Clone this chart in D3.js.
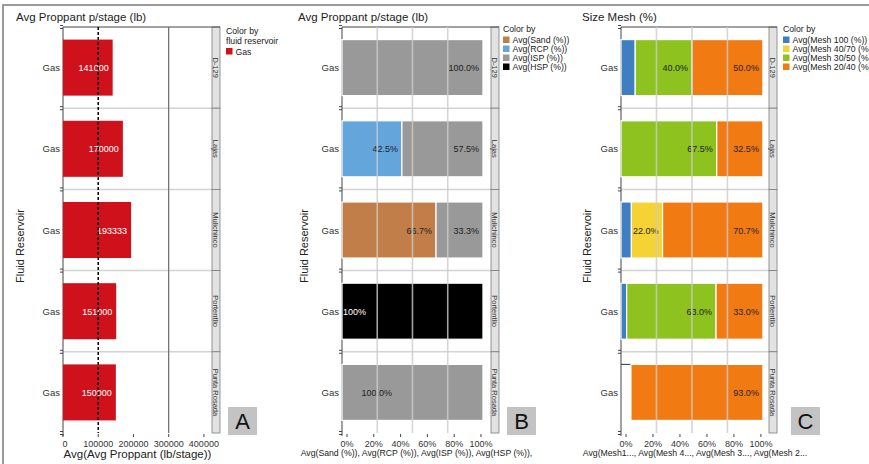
<!DOCTYPE html>
<html>
<head>
<meta charset="utf-8">
<script src="https://cdn.jsdelivr.net/npm/d3@7"></script>
<style>
  body { margin: 0; background: #fff; }
  svg text { font-family: "Liberation Sans", Arial, sans-serif; }
</style>
</head>
<body>
<svg id="chart" width="869" height="464"></svg>
<script>
// ---- data ----
const reservoirs = ["D-129", "Lajas", "Mulichinco", "Portentllo", "Punta Rosada"];
const fluid = ["Gas", "Gas", "Gas", "Gas", "Gas"];

// panel A
const proppantLb = [141000, 170000, 193333, 151000, 150000];
const proppantTicks = [0, 100000, 200000, 300000, 400000];
const proppantRef = 100000;
const proppantGrid = [300000];

// panel B (% per proppant type)
const typeNames = ["Avg(Sand (%))", "Avg(RCP (%))", "Avg(ISP (%))", "Avg(HSP (%))"];
const sandPct = [0, 0, 66.7, 0, 0];
const rcpPct = [0, 42.5, 0, 0, 0];
const ispPct = [100, 57.5, 33.3, 0, 100];
const hspPct = [0, 0, 0, 100, 0];

// panel C (% per mesh size), "other" is the unlabelled gap in Punta Rosada
const meshNames = ["Avg(Mesh 100 (%))", "Avg(Mesh 40/70 (%))", "Avg(Mesh 30/50 (%))", "Avg(Mesh 20/40 (%))"];
const mesh100 = [10, 0, 7.3, 4, 0];
const mesh4070 = [0, 0, 22, 0, 0];
const mesh3050 = [40, 67.5, 0, 63, 0];
const mesh2040 = [50, 32.5, 70.7, 33, 93];
const meshOther = [0, 0, 0, 0, 7];

const pctTicks = [0, 20, 40, 60, 80, 100];
const pctGrid = [25, 50, 75];

// ---- layout ----
const svg = d3.select("#chart");
const plotTop = 27, plotBottom = 433, stripW = 8;

svg.append("path")
  .attr("d", "M3,464 V5 H869")
  .attr("fill", "none")
  .attr("stroke", "#7a7a7a")
  .attr("stroke-width", 1.5);

const y = d3.scaleBand().domain(reservoirs).range([plotTop, plotBottom]);
const yBar = d3.scaleBand().domain(reservoirs).range([plotTop, plotBottom])
  .paddingInner(0.31).paddingOuter(0.155);

// frame, strips, row labels etc. shared by the three panels
function frame(p) {
  const g = svg.append("g");

  g.append("text").attr("x", p.titleX).attr("y", 21)
    .text(p.title).style("font-size", "11.5px").attr("fill", "#222");

  g.selectAll("line.sep")
    .data(reservoirs.slice(1))
    .join("line")
    .attr("x1", p.left).attr("x2", p.right)
    .attr("y1", d => y(d)).attr("y2", d => y(d))
    .attr("stroke", "#d3d3d3").attr("stroke-width", 1.5);

  g.append("text")
    .attr("transform", `translate(${p.yTitleX},246) rotate(-90)`)
    .attr("text-anchor", "middle")
    .text("Fluid Reservoir").style("font-size", "11px").attr("fill", "#222");

  g.selectAll("text.cat")
    .data(reservoirs)
    .join("text")
    .attr("x", p.left - 3)
    .attr("y", d => y(d) + y.bandwidth() / 2 + 3.5)
    .attr("text-anchor", "end")
    .text((d, i) => fluid[i])
    .style("font-size", "9.5px").attr("fill", "#333");

  // facet strips
  const strip = g.selectAll("g.strip").data(reservoirs).join("g");
  strip.append("rect")
    .attr("x", p.right).attr("y", d => y(d))
    .attr("width", stripW).attr("height", y.bandwidth())
    .attr("fill", "#e2e2e2").attr("stroke", "#7d7d7d").attr("stroke-width", 0.8);
  strip.append("text")
    .attr("transform", d => `translate(${p.right + stripW / 2},${y(d) + y.bandwidth() / 2}) rotate(90)`)
    .attr("text-anchor", "middle").attr("dy", "0.35em")
    .text(d => d).style("font-size", "7.5px").attr("fill", "#333");

  g.append("line").attr("x1", p.left).attr("x2", p.right + stripW)
    .attr("y1", plotTop).attr("y2", plotTop).attr("stroke", "#444");
  g.append("line").attr("x1", p.left).attr("x2", p.left)
    .attr("y1", plotTop).attr("y2", plotBottom + 3).attr("stroke", "#444");

  const bounds = [plotTop].concat(reservoirs.slice(1).map(d => y(d)), [plotBottom]);
  bounds.forEach(b => {
    [b - 1.5, b + 1.5].forEach(t => {
      g.append("line").attr("x1", p.left - 3).attr("x2", p.left)
        .attr("y1", t).attr("y2", t).attr("stroke", "#444");
    });
  });

  // x axis title
  g.append("text")
    .attr("x", (p.left + p.right) / 2).attr("y", p.xTitleY)
    .attr("text-anchor", "middle")
    .text(p.xTitle).style("font-size", p.xTitleSize).attr("fill", "#222");

  // letter tag
  g.append("rect").attr("x", p.letterX).attr("y", 407)
    .attr("width", 29).attr("height", 28).attr("fill", "#c3c3c3");
  g.append("text").attr("x", p.letterX + 14.5).attr("y", 421)
    .attr("text-anchor", "middle").attr("dy", "0.36em")
    .text(p.letter).style("font-size", "22px").attr("fill", "#111");
  return g;
}

function legend(x, yTop, title, names, colors) {
  const g = svg.append("g");
  title.forEach((t, i) => {
    g.append("text").attr("x", x).attr("y", yTop + i * 9.5)
      .text(t).style("font-size", "8.7px").attr("fill", "#222");
  });
  const y0 = yTop + (title.length - 1) * 9.5 + 4.5;
  names.forEach((n, i) => {
    g.append("rect").attr("x", x).attr("y", y0 + i * 9)
      .attr("width", 6.5).attr("height", 6.5).attr("fill", colors[i]);
    g.append("text").attr("x", x + 9.5).attr("y", y0 + i * 9 + 6.5)
      .text(n).style("font-size", "8.7px").attr("fill", "#222");
  });
}

// ---- panel A ----
const pA = { left: 63, right: 212, titleX: 16, yTitleX: 24, title: "Avg Proppant p/stage (lb)",
  xTitle: "Avg(Avg Proppant (lb/stage))", xTitleY: 458, xTitleSize: "11.5px", letter: "A", letterX: 228 };
const gA = frame(pA);
const xA = d3.scaleLinear().domain([0, 423000]).range([pA.left, pA.right]);

proppantGrid.forEach(v => {
  gA.append("line").attr("x1", xA(v)).attr("x2", xA(v))
    .attr("y1", plotTop).attr("y2", plotBottom).attr("stroke", "#6a6a6a").attr("stroke-width", 1.2);
});

gA.selectAll("rect.bar")
  .data(reservoirs)
  .join("rect")
  .attr("x", xA(0)).attr("y", d => yBar(d))
  .attr("width", (d, i) => xA(proppantLb[i]) - xA(0))
  .attr("height", yBar.bandwidth())
  .attr("fill", "#cf111b");

gA.selectAll("text.val")
  .data(reservoirs)
  .join("text")
  .attr("x", (d, i) => xA(proppantLb[i]) - 4)
  .attr("y", d => y(d) + y.bandwidth() / 2 + 3.5)
  .attr("text-anchor", "end")
  .text((d, i) => d3.format("d")(proppantLb[i]))
  .style("font-size", "9px").attr("fill", "#fff");

gA.append("line").attr("x1", xA(proppantRef)).attr("x2", xA(proppantRef))
  .attr("y1", plotTop).attr("y2", plotBottom)
  .attr("stroke", "#000").attr("stroke-width", 1.5).attr("stroke-dasharray", "3,2");

proppantTicks.forEach(t => {
  gA.append("line").attr("x1", xA(t)).attr("x2", xA(t))
    .attr("y1", plotBottom + 1).attr("y2", plotBottom + 4).attr("stroke", "#444");
  gA.append("text").attr("x", xA(t) + (t === 0 ? 2 : 0)).attr("y", 447)
    .attr("text-anchor", "middle").text(t)
    .style("font-size", "9px").attr("fill", "#333");
});

legend(226, 34, ["Color by", "fluid reservoir"], ["Gas"], ["#cf111b"]);

// ---- stacked percentage panels ----
function stackedPanel(p, keys, series, colors, labelColor, domainMax, labelTweak) {
  const g = frame(p);
  const x = d3.scaleLinear().domain([0, domainMax]).range([p.left, p.right]);
  const xl = d3.scaleLinear().domain([0, 100]).range([x(0) + 5, x(100) - 2]);

  const rows = reservoirs.map((r, i) => {
    const o = { r: r };
    keys.forEach((k, j) => { o[k] = series[j][i]; });
    return o;
  });
  const stacked = d3.stack().keys(keys)(rows);

  stacked.forEach((layer, j) => {
    const k = layer.key;
    g.selectAll(`rect.s${j}`)
      .data(layer.filter(d => d[1] - d[0] > 0))
      .join("rect")
      .attr("x", d => x(d[0])).attr("y", d => yBar(d.data.r))
      .attr("width", d => x(d[1]) - x(d[0]))
      .attr("height", yBar.bandwidth())
      .attr("fill", colors[k] || "none")
      .attr("stroke", colors[k] ? "#fff" : "none").attr("stroke-width", 1.2);
    if (!colors[k]) {
      g.selectAll(`line.s${j}`)
        .data(layer.filter(d => d[1] - d[0] > 0))
        .join("line")
        .attr("x1", d => x(d[0])).attr("x2", d => x(d[1]))
        .attr("y1", d => yBar(d.data.r)).attr("y2", d => yBar(d.data.r))
        .attr("stroke", "#333");
      return;
    }
    g.selectAll(`text.s${j}`)
      .data(layer.filter(d => d[1] - d[0] >= 15))
      .join("text")
      .attr("x", d => {
        const tw = labelTweak[d.data.r];
        return tw && tw.key === k ? x(tw.end) : x(d[1]) - 4;
      })
      .attr("y", d => y(d.data.r) + y.bandwidth() / 2 + 3.5)
      .attr("text-anchor", "end")
      .text(d => {
        const tw = labelTweak[d.data.r];
        const v = d[1] - d[0];
        return tw && tw.key === k && tw.short ? d3.format("d")(v) + "%" : d3.format(".1f")(v) + "%";
      })
      .style("font-size", "9px").attr("fill", labelColor[k] || "#222");
  });

  pctGrid.forEach(v => {
    g.append("line").attr("x1", x(v)).attr("x2", x(v))
      .attr("y1", plotTop).attr("y2", plotBottom)
      .attr("stroke", "#cccccc").attr("stroke-opacity", 0.8).attr("stroke-width", 1.6);
  });

  pctTicks.forEach(t => {
    g.append("line").attr("x1", xl(t)).attr("x2", xl(t))
      .attr("y1", plotBottom + 1).attr("y2", plotBottom + 4).attr("stroke", "#444");
    g.append("text").attr("x", xl(t)).attr("y", 447)
      .attr("text-anchor", "middle").text(t + "%")
      .style("font-size", "9px").attr("fill", "#333");
  });
  return g;
}

// panel B
const typeKeys = ["sand", "rcp", "isp", "hsp"];
const typeColors = { sand: "#c17e48", rcp: "#64a5dc", isp: "#999999", hsp: "#000000" };
stackedPanel(
  { left: 342, right: 491, titleX: 298, yTitleX: 308, title: "Avg Proppant p/stage (lb)",
    xTitle: "Avg(Sand (%)), Avg(RCP (%)), Avg(ISP (%)), Avg(HSP (%)),", xTitleY: 456, xTitleSize: "8.7px",
    letter: "B", letterX: 507 },
  typeKeys, [sandPct, rcpPct, ispPct, hspPct], typeColors, { hsp: "#fff" }, 105.7,
  { "Portentllo": { key: "hsp", end: 17, short: true }, "Punta Rosada": { key: "isp", end: 35.5 } }
);
legend(503, 32, ["Color by"], typeNames, typeKeys.map(k => typeColors[k]));

// panel C
const meshKeys = ["other", "m100", "m4070", "m3050", "m2040"];
const meshColors = { m100: "#3f7fc0", m4070: "#f6d334", m3050: "#8dc21f", m2040: "#f27a12" };
stackedPanel(
  { left: 621, right: 769, titleX: 582, yTitleX: 591, title: "Size Mesh (%)",
    xTitle: "Avg(Mesh1..., Avg(Mesh 4..., Avg(Mesh 3..., Avg(Mesh 2...", xTitleY: 456, xTitleSize: "8.7px",
    letter: "C", letterX: 791 },
  meshKeys, [meshOther, mesh100, mesh4070, mesh3050, mesh2040], meshColors, {}, 104.3, {}
);
legend(783, 32, ["Color by"], meshNames, meshKeys.slice(1).map(k => meshColors[k]));
</script>
</body>
</html>
